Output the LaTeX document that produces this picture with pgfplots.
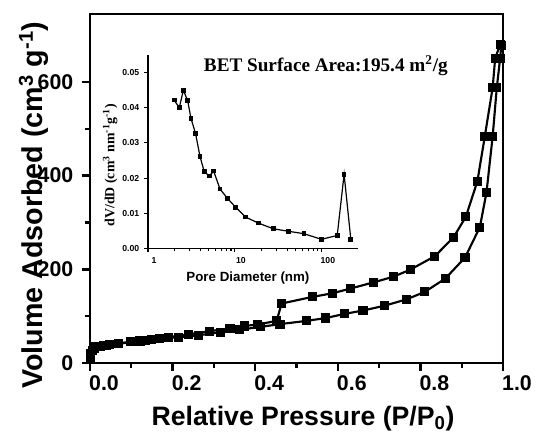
\documentclass[border=0pt]{standalone}
\usepackage{fontspec}
\setmainfont{Liberation Sans}
\newfontfamily\timesfont{Liberation Serif}
\usepackage{pgfplots}
\pgfplotsset{compat=1.18}

% isotherm branches
\pgfplotstableread{
p v
0.0005 8
0.002 20
0.005 27
0.010 31
0.025 35
0.040 37
0.070 41
0.110 46
0.135 48
0.169 52
0.214 55
0.262 59
0.315 66
0.363 71
0.412 77
0.460 83
0.525 90
0.571 96
0.617 105
0.661 112
0.712 122
0.767 136
0.811 152
0.860 180
0.908 225
0.944 290
0.960 364
0.975 484
0.985 588
0.993 650
0.996 678
}\adsorption

\pgfplotstableread{
p v
0.993 680
0.981 650
0.975 588
0.956 484
0.938 388
0.910 312
0.880 268
0.835 228
0.775 199
0.734 184
0.686 172
0.631 159
0.588 149
0.538 141
0.464 127
0.452 90
0.405 82
0.373 79
0.339 74
0.290 68
0.238 61
0.190 55
0.149 50
0.121 47
0.097 45
0.048 40
0.032 38
0.012 35
}\desorption

\pgfplotstableread{
d dv
2.00 0.0422
2.29 0.0400
2.55 0.0450
2.86 0.0420
3.12 0.0370
3.53 0.0326
3.96 0.0262
4.44 0.0218
5.07 0.0206
5.69 0.0220
6.73 0.0169
8.16 0.0143
10.2 0.0117
13.3 0.0089
18.7 0.0072
27.6 0.0056
41.0 0.0049
62.0 0.0042
99.0 0.0026
150 0.0037
180 0.0211
215 0.0026
}\pores

\begin{document}
\begin{tikzpicture}
\path[use as bounding box] (-67.5pt,-55.5pt) rectangle (334.5pt,272.25pt);
\begin{axis}[
  at={(0pt,0pt)}, anchor=south west, scale only axis,
  width=309.75pt, height=261.75pt,
  xmin=0, xmax=1, ymin=0, ymax=745,
  xtick={0,0.2,0.4,0.6,0.8,1.0}, minor x tick num=1,
  ytick={0,200,400,600}, minor y tick num=1,
  xtick pos=left, ytick pos=left,
  tick align=outside,
  major tick length=6pt, minor tick length=4pt,
  every tick/.style={black, line width=1.8pt},
  axis line style={line width=2.2pt},
  /pgf/number format/assume math mode=true,
  tick label style={font=\fontsize{16}{18}\selectfont\bfseries},
  xticklabel style={xshift=10.5pt, /pgf/number format/fixed, /pgf/number format/fixed zerofill, /pgf/number format/precision=1},
  yticklabel style={xshift=-3pt, /pgf/number format/fixed, /pgf/number format/precision=0},
  xlabel={Relative Pressure (P/P\textsubscript{0})},
  ylabel={Volume Adsorbed (cm\textsuperscript{3} g\textsuperscript{-1})},
  xlabel style={font=\fontsize{20}{24}\selectfont\bfseries, at={(axis description cs:0.516,-0.18)}, anchor=base},
  ylabel style={font=\fontsize{21.5}{26}\selectfont\bfseries, at={(axis description cs:-0.114,0.452)}, anchor=base},
  clip=false,
]
\addplot[black, line width=1.6pt, mark=square*, mark size=2.6pt] table[x=p, y=v] {\adsorption};
\addplot[black, line width=1.6pt, mark=square*, mark size=2.6pt] table[x=p, y=v] {\desorption};
\node[anchor=base, font=\fontsize{14.4}{17}\selectfont\timesfont\bfseries]
  at (axis description cs:0.571,0.834) {BET Surface Area:195.4 m\textsuperscript{2}/g};
\end{axis}

\begin{axis}[
  at={(43.5pt,85.9pt)}, anchor=south west, scale only axis,
  width=157.5pt, height=145.1pt,
  xmode=log, xmin=1, xmax=260, ymin=0, ymax=0.055,
  axis x line*=bottom, axis y line*=left,
  axis line style={-, line width=1pt},
  xtick={1,10,100}, xticklabels={1,10,100},
  ytick={0,0.01,0.02,0.03,0.04,0.05},
  scaled y ticks=false,
  tick align=outside,
  major tick length=3pt, minor tick length=1.8pt,
  every tick/.style={black, line width=0.8pt},
  /pgf/number format/assume math mode=true,
  tick label style={font=\fontsize{6.5}{8}\selectfont\bfseries},
  xticklabel style={xshift=4.5pt},
  yticklabel style={/pgf/number format/fixed, /pgf/number format/fixed zerofill, /pgf/number format/precision=2},
  xlabel={Pore Diameter (nm)},
  xlabel style={font=\fontsize{10}{12}\selectfont\bfseries, at={(axis description cs:0.476,-0.173)}, anchor=base},
  ylabel={\timesfont dV/dD (cm\textsuperscript{3} nm\textsuperscript{-1}g\textsuperscript{-1})},
  ylabel style={font=\fontsize{10.4}{12}\selectfont\bfseries, at={(axis description cs:-0.18,0.43)}, anchor=center},
]
\addplot[black, line width=0.9pt, mark=square*, mark size=1.3pt] table[x=d, y=dv] {\pores};
\end{axis}
\end{tikzpicture}
\end{document}
